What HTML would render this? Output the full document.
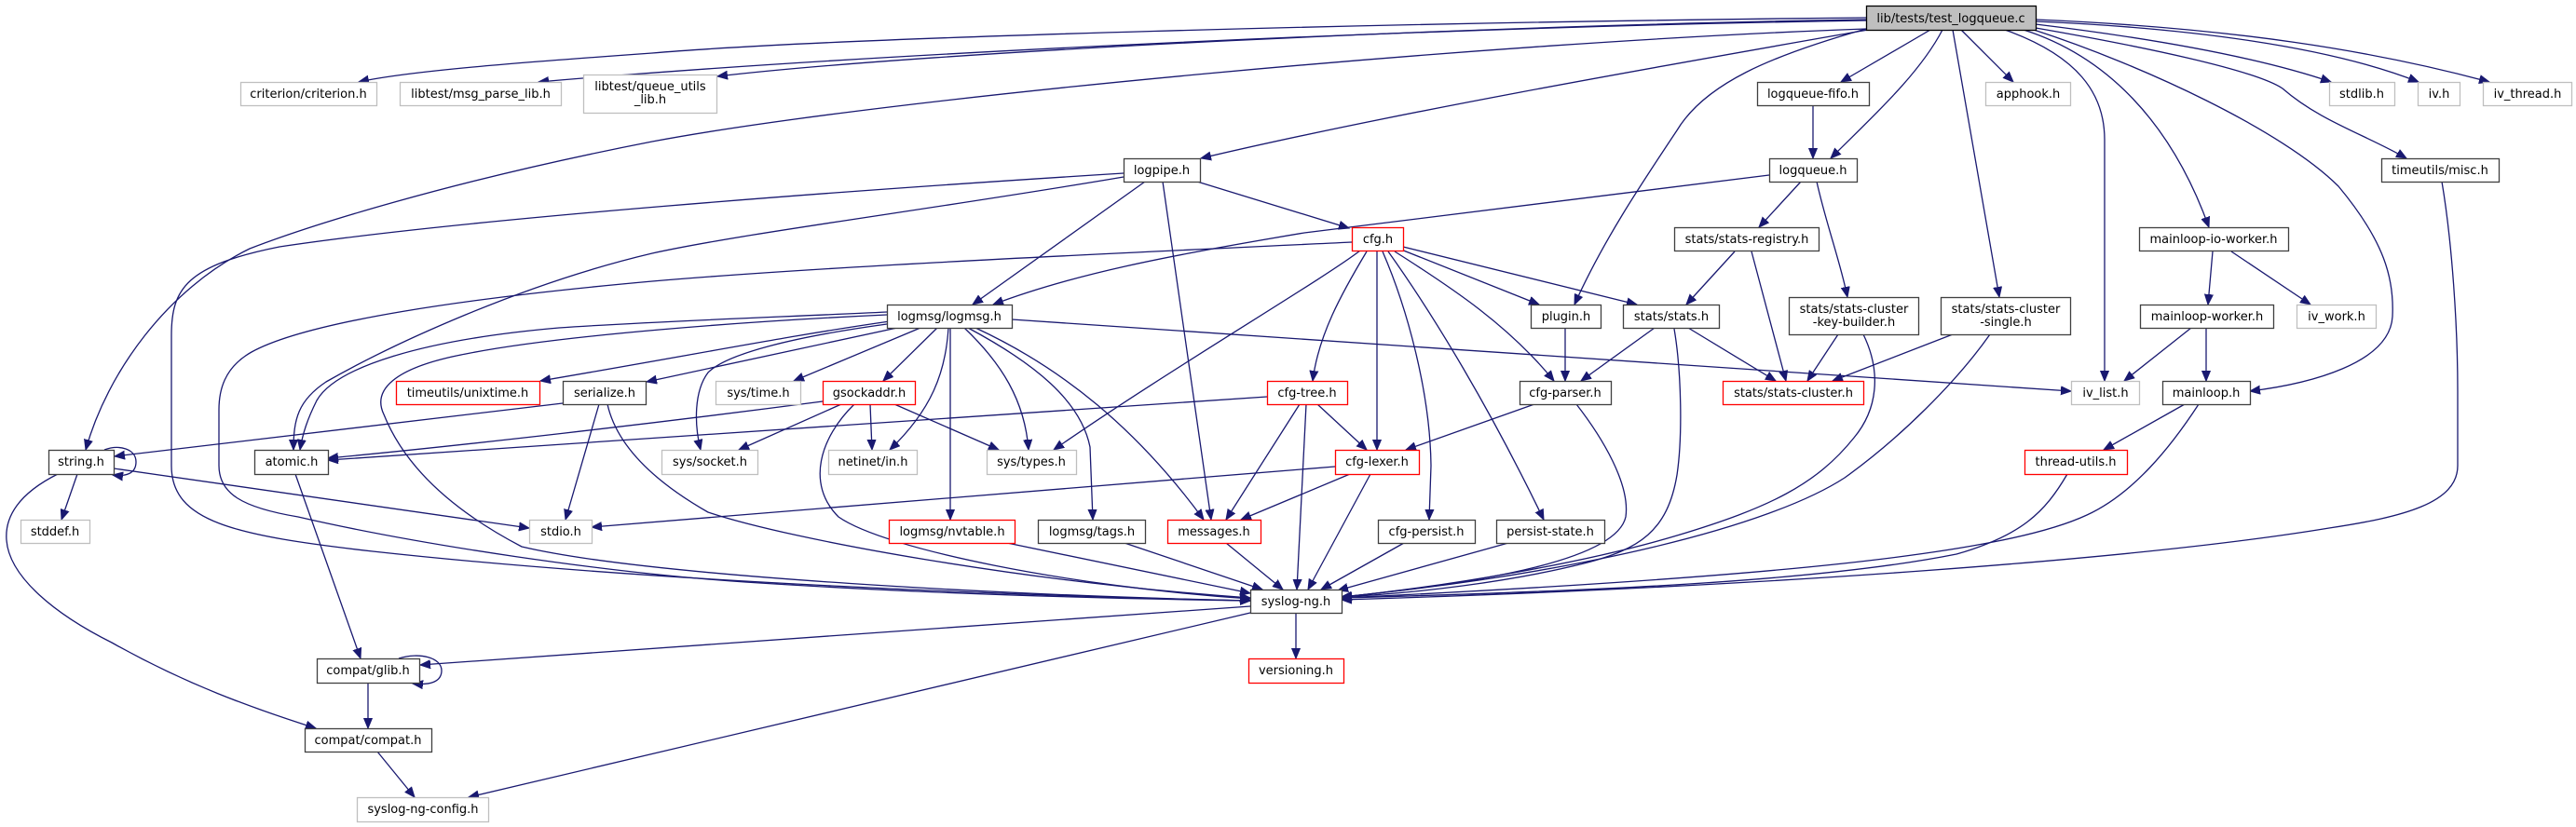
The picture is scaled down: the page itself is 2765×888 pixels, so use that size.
<!DOCTYPE html>
<html>
<head>
<meta charset="utf-8">
<style>
html,body{margin:0;padding:0;background:#fff;}
svg{display:block;}
.e{fill:none;stroke:#191970;stroke-width:1.3;marker-end:url(#a);}
.n{fill:#fff;stroke-width:1.3;}
.b{stroke:#404040;}
.g{stroke:#bfbfbf;}
.r{stroke:#ff0000;}
.t{font-family:"DejaVu Sans","Liberation Sans",sans-serif;font-size:13px;fill:#000;text-anchor:middle;}
</style>
</head>
<body>
<svg width="2765" height="888" viewBox="0 0 2765 888" xmlns="http://www.w3.org/2000/svg">
<defs>
<marker id="a" markerUnits="userSpaceOnUse" markerWidth="12" markerHeight="10" viewBox="0 0 12 10" refX="11" refY="5" orient="auto">
<path d="M0,0.5 L11,5 L0,9.5 z" fill="#191970" stroke="#191970" stroke-width="1"/>
</marker>
</defs>
<g>
<!-- root edges -->
<path class="e" d="M2003,19 C1500,24 900,40 700,57 C560,67 440,76 385,88"/>
<path class="e" d="M2003,22 C1500,30 900,60 578,88"/>
<path class="e" d="M2003,21 C1600,27 1000,55 770,82"/>
<path class="e" d="M2003,31 C1600,45 950,105 700,152 C480,195 330,243 268,267 C180,310 115,400 92,483"/>
<path class="e" d="M2005,32 C1800,68 1500,120 1289,170"/>
<path class="e" d="M2003,31 C1900,60 1830,90 1800,140 C1760,200 1720,260 1690,327"/>
<path class="e" d="M2072,32 L1976,88"/>
<path class="e" d="M2085,32 C2060,80 2010,125 1965,170"/>
<path class="e" d="M2105,32 L2161,88"/>
<path class="e" d="M2096,32 L2146,319"/>
<path class="e" d="M2152,32 C2230,60 2259,100 2259,150 L2259,409"/>
<path class="e" d="M2172,32 C2260,60 2330,130 2371,244"/>
<path class="e" d="M2183,32 C2300,70 2450,140 2510,200 C2560,260 2570,300 2568,340 C2565,390 2480,412 2415,420"/>
<path class="e" d="M2185,30 C2300,50 2420,75 2450,95 C2490,130 2540,145 2583,170"/>
<path class="e" d="M2185,26 C2300,40 2420,60 2502,88"/>
<path class="e" d="M2185,23 C2350,30 2500,50 2596,88"/>
<path class="e" d="M2185,21 C2400,30 2550,55 2672,88"/>
<!-- logqueue-fifo / logqueue -->
<path class="e" d="M1946,113 L1946,170"/>
<path class="e" d="M1899,188 L1400,250 C1250,275 1150,295 1066,327"/>
<path class="e" d="M1933,195 L1888,244"/>
<path class="e" d="M1950,195 C1960,240 1975,280 1983,319"/>
<!-- logpipe -->
<path class="e" d="M1229,195 L1044,327"/>
<path class="e" d="M1285,195 L1448,245"/>
<path class="e" d="M1248,195 L1300,558"/>
<path class="e" d="M1206,186 C900,205 500,235 300,265 C200,285 184,310 184,360 L184,500 C184,560 250,575 400,592 C700,625 1100,640 1342,645"/>
<path class="e" d="M1206,190 C1000,225 800,250 700,272 C560,305 420,370 350,410 C320,430 315,450 315,483"/>
<!-- cfg -->
<path class="e" d="M1451,260 C1200,272 900,285 700,302 C500,320 330,345 270,378 C240,395 235,420 235,440 L235,500 C235,530 260,545 320,555 C450,585 650,615 800,625 C1000,638 1200,643 1342,645"/>
<path class="e" d="M1460,269 C1420,300 1250,400 1131,483"/>
<path class="e" d="M1467,270 C1440,315 1415,360 1409,409"/>
<path class="e" d="M1478,270 L1478,483"/>
<path class="e" d="M1484,270 C1510,330 1535,420 1536,500 L1534,558"/>
<path class="e" d="M1490,270 C1540,340 1600,440 1657,558"/>
<path class="e" d="M1497,270 C1560,310 1620,350 1668,409"/>
<path class="e" d="M1504,268 L1652,327"/>
<path class="e" d="M1506,265 L1757,327"/>
<!-- logmsg -->
<path class="e" d="M952,335 C850,340 700,345 600,352 C450,365 360,395 340,430 C330,450 325,465 322,483"/>
<path class="e" d="M952,338 C800,345 600,360 500,380 C420,395 400,420 412,445 C430,490 470,540 560,587 C700,620 1100,640 1342,645"/>
<path class="e" d="M955,345 C850,360 750,380 580,409"/>
<path class="e" d="M963,352 L694,410"/>
<path class="e" d="M988,352 L852,409"/>
<path class="e" d="M1006,352 L948,409"/>
<path class="e" d="M952,348 C850,362 780,380 760,400 C745,420 745,455 752,483"/>
<path class="e" d="M1018,352 C1015,400 1000,440 955,483"/>
<path class="e" d="M1020,352 L1020,558"/>
<path class="e" d="M1035,352 C1075,390 1100,430 1104,483"/>
<path class="e" d="M1039,352 C1110,390 1160,430 1170,480 L1173,558"/>
<path class="e" d="M1047,352 C1140,395 1220,460 1292,558"/>
<path class="e" d="M1086,343 C1500,370 1900,400 2223,420"/>
<!-- cfg-tree -->
<path class="e" d="M1360,426 L352,494"/>
<path class="e" d="M1395,434 L1316,558"/>
<path class="e" d="M1402,434 L1392,633"/>
<path class="e" d="M1414,434 L1467,483"/>
<!-- gsockaddr -->
<path class="e" d="M883,431 C700,455 500,478 352,492"/>
<path class="e" d="M903,434 L793,483"/>
<path class="e" d="M934,434 L936,483"/>
<path class="e" d="M960,434 L1072,483"/>
<path class="e" d="M917,434 C880,470 865,520 900,555 C950,590 1150,630 1342,643"/>
<!-- serialize -->
<path class="e" d="M604,433 L123,490"/>
<path class="e" d="M643,434 L607,558"/>
<path class="e" d="M652,434 C660,470 690,510 760,550 C850,580 1100,625 1342,642"/>
<!-- string -->
<path class="e" d="M112,483 C128,477 146,482 146,496 C146,508 136,512 121,510"/>
<path class="e" d="M83,509 L66,558"/>
<path class="e" d="M122,503 L568,567"/>
<path class="e" d="M62,509 C20,530 5,555 7,580 C10,620 60,660 120,690 C200,735 270,760 339,782"/>
<!-- atomic / glib / compat -->
<path class="e" d="M317,509 L387,707"/>
<path class="e" d="M428,707 C450,700 474,706 474,720 C474,732 462,736 443,734"/>
<path class="e" d="M395,733 L395,782"/>
<path class="e" d="M405,807 L445,856"/>
<!-- syslog-ng -->
<path class="e" d="M1342,651 L451,714"/>
<path class="e" d="M1342,658 L503,856"/>
<path class="e" d="M1391,658 L1391,707"/>
<!-- into syslog-ng -->
<path class="e" d="M1081,583 L1342,637"/>
<path class="e" d="M1207,583 L1355,633"/>
<path class="e" d="M1316,583 L1377,633"/>
<path class="e" d="M1433,501 L635,566"/>
<path class="e" d="M1449,509 L1332,558"/>
<path class="e" d="M1471,509 L1404,633"/>
<path class="e" d="M1507,583 L1418,633"/>
<path class="e" d="M1619,583 L1436,634"/>
<path class="e" d="M1647,434 L1509,483"/>
<path class="e" d="M1692,434 C1720,470 1750,520 1745,555 C1735,600 1600,625 1440,641"/>
<path class="e" d="M1680,352 L1680,409"/>
<path class="e" d="M1776,352 L1697,409"/>
<path class="e" d="M1812,352 L1906,409"/>
<path class="e" d="M1797,353 C1805,400 1806,470 1800,510 C1790,570 1760,590 1700,605 C1620,625 1520,637 1440,641"/>
<path class="e" d="M1862,270 L1810,327"/>
<path class="e" d="M1880,270 L1917,409"/>
<path class="e" d="M1973,359 L1940,409"/>
<path class="e" d="M2000,359 C2020,400 2015,440 1990,470 C1950,520 1900,545 1800,575 C1700,605 1550,630 1440,641"/>
<path class="e" d="M2096,359 L1967,409"/>
<path class="e" d="M2136,359 C2100,410 2040,470 1980,513 C1900,565 1700,615 1440,641"/>
<path class="e" d="M2375,270 L2370,327"/>
<path class="e" d="M2395,270 L2480,327"/>
<path class="e" d="M2352,352 L2280,409"/>
<path class="e" d="M2368,352 L2368,409"/>
<path class="e" d="M2345,434 L2258,483"/>
<path class="e" d="M2360,434 C2330,480 2290,530 2240,553 C2150,595 1900,620 1440,642"/>
<path class="e" d="M2219,509 C2195,550 2170,575 2100,595 C1950,625 1700,635 1440,642"/>
<path class="e" d="M2621,195 C2632,260 2638,350 2638,420 L2638,500 C2638,540 2580,555 2500,567 C2300,600 1900,630 1440,644"/>
</g>

<g>
<!-- nodes -->
<rect x="2003.5" y="6.5" width="182" height="26" fill="#bfbfbf" stroke="#000" stroke-width="1.3"/>
<text class="t" x="2094" y="24">lib/tests/test_logqueue.c</text>

<rect class="n g" x="258.5" y="88.5" width="146" height="25"/><text class="t" x="331" y="105">criterion/criterion.h</text>
<rect class="n g" x="429.5" y="88.5" width="173" height="25"/><text class="t" x="516" y="105">libtest/msg_parse_lib.h</text>
<rect class="n g" x="626.5" y="80.5" width="143" height="41"/><text class="t" x="698" y="97">libtest/queue_utils</text><text class="t" x="698" y="111">_lib.h</text>
<rect class="n b" x="1886.5" y="88.5" width="120" height="25"/><text class="t" x="1946" y="105">logqueue-fifo.h</text>
<rect class="n g" x="2131.5" y="88.5" width="91" height="25"/><text class="t" x="2177" y="105">apphook.h</text>
<rect class="n g" x="2500.5" y="88.5" width="70" height="25"/><text class="t" x="2535" y="105">stdlib.h</text>
<rect class="n g" x="2595.5" y="88.5" width="45" height="25"/><text class="t" x="2618" y="105">iv.h</text>
<rect class="n g" x="2665.5" y="88.5" width="95" height="25"/><text class="t" x="2713" y="105">iv_thread.h</text>

<rect class="n b" x="1206.5" y="170.5" width="82" height="25"/><text class="t" x="1247" y="187">logpipe.h</text>
<rect class="n b" x="1899.5" y="170.5" width="94" height="25"/><text class="t" x="1946" y="187">logqueue.h</text>
<rect class="n b" x="2556.5" y="170.5" width="126" height="25"/><text class="t" x="2619" y="187">timeutils/misc.h</text>

<rect class="n r" x="1451.5" y="244.5" width="55" height="25"/><text class="t" x="1479" y="261">cfg.h</text>
<rect class="n b" x="1797.5" y="244.5" width="155" height="25"/><text class="t" x="1875" y="261">stats/stats-registry.h</text>
<rect class="n b" x="2296.5" y="244.5" width="160" height="25"/><text class="t" x="2376" y="261">mainloop-io-worker.h</text>

<rect class="n b" x="952.5" y="327.5" width="134" height="25"/><text class="t" x="1019" y="344">logmsg/logmsg.h</text>
<rect class="n b" x="1643.5" y="327.5" width="75" height="25"/><text class="t" x="1681" y="344">plugin.h</text>
<rect class="n b" x="1742.5" y="327.5" width="103" height="25"/><text class="t" x="1794" y="344">stats/stats.h</text>
<rect class="n b" x="1920.5" y="319.5" width="139" height="40"/><text class="t" x="1990" y="336">stats/stats-cluster</text><text class="t" x="1990" y="350">-key-builder.h</text>
<rect class="n b" x="2083.5" y="319.5" width="139" height="40"/><text class="t" x="2153" y="336">stats/stats-cluster</text><text class="t" x="2153" y="350">-single.h</text>
<rect class="n b" x="2297.5" y="327.5" width="143" height="25"/><text class="t" x="2369" y="344">mainloop-worker.h</text>
<rect class="n g" x="2465.5" y="327.5" width="85" height="25"/><text class="t" x="2508" y="344">iv_work.h</text>

<rect class="n r" x="425.5" y="409.5" width="154" height="25"/><text class="t" x="502" y="426">timeutils/unixtime.h</text>
<rect class="n b" x="604.5" y="409.5" width="89" height="25"/><text class="t" x="649" y="426">serialize.h</text>
<rect class="n g" x="768.5" y="409.5" width="91" height="25"/><text class="t" x="814" y="426">sys/time.h</text>
<rect class="n r" x="883.5" y="409.5" width="99" height="25"/><text class="t" x="933" y="426">gsockaddr.h</text>
<rect class="n r" x="1360.5" y="409.5" width="86" height="25"/><text class="t" x="1403" y="426">cfg-tree.h</text>
<rect class="n b" x="1631.5" y="409.5" width="98" height="25"/><text class="t" x="1680" y="426">cfg-parser.h</text>
<rect class="n r" x="1849.5" y="409.5" width="151" height="25"/><text class="t" x="1925" y="426">stats/stats-cluster.h</text>
<rect class="n g" x="2223.5" y="409.5" width="73" height="25"/><text class="t" x="2260" y="426">iv_list.h</text>
<rect class="n b" x="2321.5" y="409.5" width="94" height="25"/><text class="t" x="2368" y="426">mainloop.h</text>

<rect class="n b" x="52.5" y="483.5" width="70" height="26"/><text class="t" x="87" y="500">string.h</text>
<rect class="n b" x="273.5" y="483.5" width="79" height="26"/><text class="t" x="313" y="500">atomic.h</text>
<rect class="n g" x="710.5" y="483.5" width="103" height="26"/><text class="t" x="762" y="500">sys/socket.h</text>
<rect class="n g" x="889.5" y="483.5" width="95" height="26"/><text class="t" x="937" y="500">netinet/in.h</text>
<rect class="n g" x="1059.5" y="483.5" width="96" height="26"/><text class="t" x="1107" y="500">sys/types.h</text>
<rect class="n r" x="1433.5" y="483.5" width="90" height="26"/><text class="t" x="1478" y="500">cfg-lexer.h</text>
<rect class="n r" x="2173.5" y="483.5" width="110" height="26"/><text class="t" x="2228" y="500">thread-utils.h</text>

<rect class="n g" x="22.5" y="558.5" width="74" height="25"/><text class="t" x="59" y="575">stddef.h</text>
<rect class="n g" x="568.5" y="558.5" width="67" height="25"/><text class="t" x="602" y="575">stdio.h</text>
<rect class="n r" x="954.5" y="558.5" width="135" height="25"/><text class="t" x="1022" y="575">logmsg/nvtable.h</text>
<rect class="n b" x="1114.5" y="558.5" width="115" height="25"/><text class="t" x="1172" y="575">logmsg/tags.h</text>
<rect class="n r" x="1253.5" y="558.5" width="100" height="25"/><text class="t" x="1303" y="575">messages.h</text>
<rect class="n b" x="1479.5" y="558.5" width="104" height="25"/><text class="t" x="1531" y="575">cfg-persist.h</text>
<rect class="n b" x="1606.5" y="558.5" width="116" height="25"/><text class="t" x="1664" y="575">persist-state.h</text>

<rect class="n b" x="1342.5" y="633.5" width="98" height="25"/><text class="t" x="1391" y="650">syslog-ng.h</text>

<rect class="n b" x="340.5" y="707.5" width="110" height="26"/><text class="t" x="395" y="724">compat/glib.h</text>
<rect class="n r" x="1340.5" y="707.5" width="102" height="26"/><text class="t" x="1391" y="724">versioning.h</text>

<rect class="n b" x="327.5" y="782.5" width="136" height="25"/><text class="t" x="395" y="799">compat/compat.h</text>

<rect class="n g" x="383.5" y="856.5" width="141" height="26"/><text class="t" x="454" y="873">syslog-ng-config.h</text>
</g>
</svg>
</body>
</html>
